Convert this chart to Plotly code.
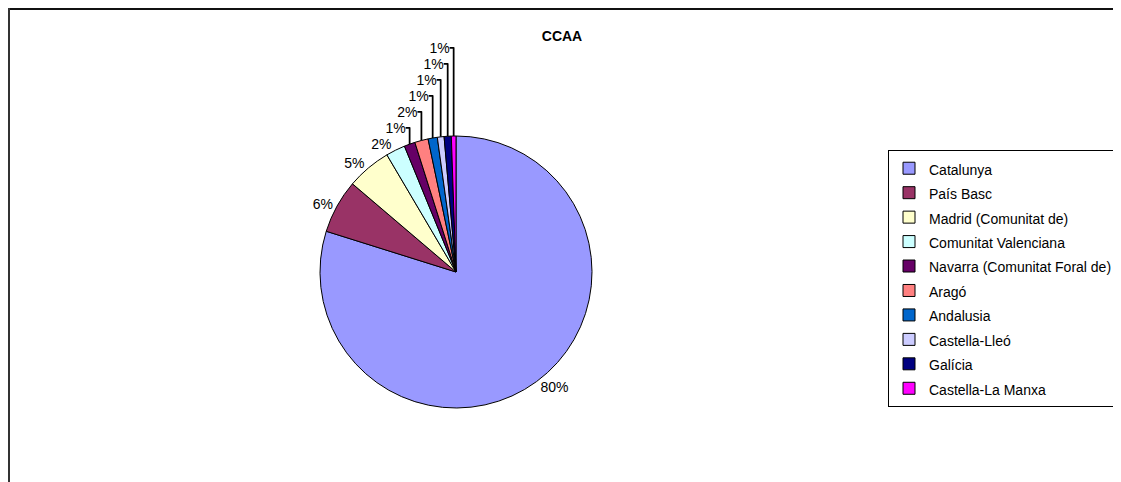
import plotly.graph_objects as go

categories = ["Catalunya", "País Basc", "Madrid (Comunitat de)", "Comunitat Valenciana",
              "Navarra (Comunitat Foral de)", "Aragó", "Andalusia", "Castella-Lleó",
              "Galícia", "Castella-La Manxa"]
values = [80.0, 6.4, 5.3, 2.3, 1.3, 1.6, 1.1, 0.8, 0.85, 0.55]
colors = ["#9999FF", "#993366", "#FFFFCC", "#CCFFFF", "#660066",
          "#FF8080", "#0066CC", "#CCCCFF", "#000080", "#FF00FF"]
title_text = "CCAA"

# page body has an 8px margin, so the figure fills the rest of the window
W, H = 1113, 474
off = 8
cx, cy, r = 456 - off, 272 - off, 136

legend_labels = ['<span style="font-size:14px">%s</span>' % c for c in categories]

fig = go.Figure(go.Pie(
    labels=legend_labels,
    values=values,
    sort=False,
    direction="clockwise",
    rotation=0,
    marker=dict(colors=colors, line=dict(color="#000000", width=1)),
    textposition="outside",
    texttemplate="%{percent:.0%}",
    textfont=dict(family="Arial, Liberation Sans, sans-serif", size=14, color="#000000"),
    domain=dict(x=[(cx - r) / W, (cx + r) / W], y=[(H - cy - r) / H, (H - cy + r) / H]),
    hoverinfo="label+percent",
))

fig.update_layout(
    width=W, height=H,
    margin=dict(l=0, r=0, t=0, b=0, autoexpand=False),
    paper_bgcolor="white", plot_bgcolor="white",
    font=dict(family="Arial, Liberation Sans, sans-serif", color="#000000"),
    title=dict(text="<b>%s</b>" % title_text, x=(562 - off) / W, xanchor="center",
               y=1 - (36 - off) / H, yanchor="middle", yref="container",
               font=dict(size=14, family="Arial, Liberation Sans, sans-serif")),
    legend=dict(x=(888 - off) / W, y=1 - (150 - off) / H, xanchor="left", yanchor="top",
                bordercolor="#000000", borderwidth=1, bgcolor="white",
                font=dict(size=16.5, family="Arial, Liberation Sans, sans-serif"),
                itemwidth=30, traceorder="normal"),
    showlegend=True,
    shapes=[
        dict(type="line", xref="paper", yref="paper", x0=0, x1=1.0, y0=1 - 1 / H, y1=1 - 1 / H,
             line=dict(color="#111111", width=2)),
        dict(type="line", xref="paper", yref="paper", x0=1 / W, x1=1 / W, y0=0, y1=1,
             line=dict(color="#333333", width=2)),
    ],
)

fig.write_html("out.html")
